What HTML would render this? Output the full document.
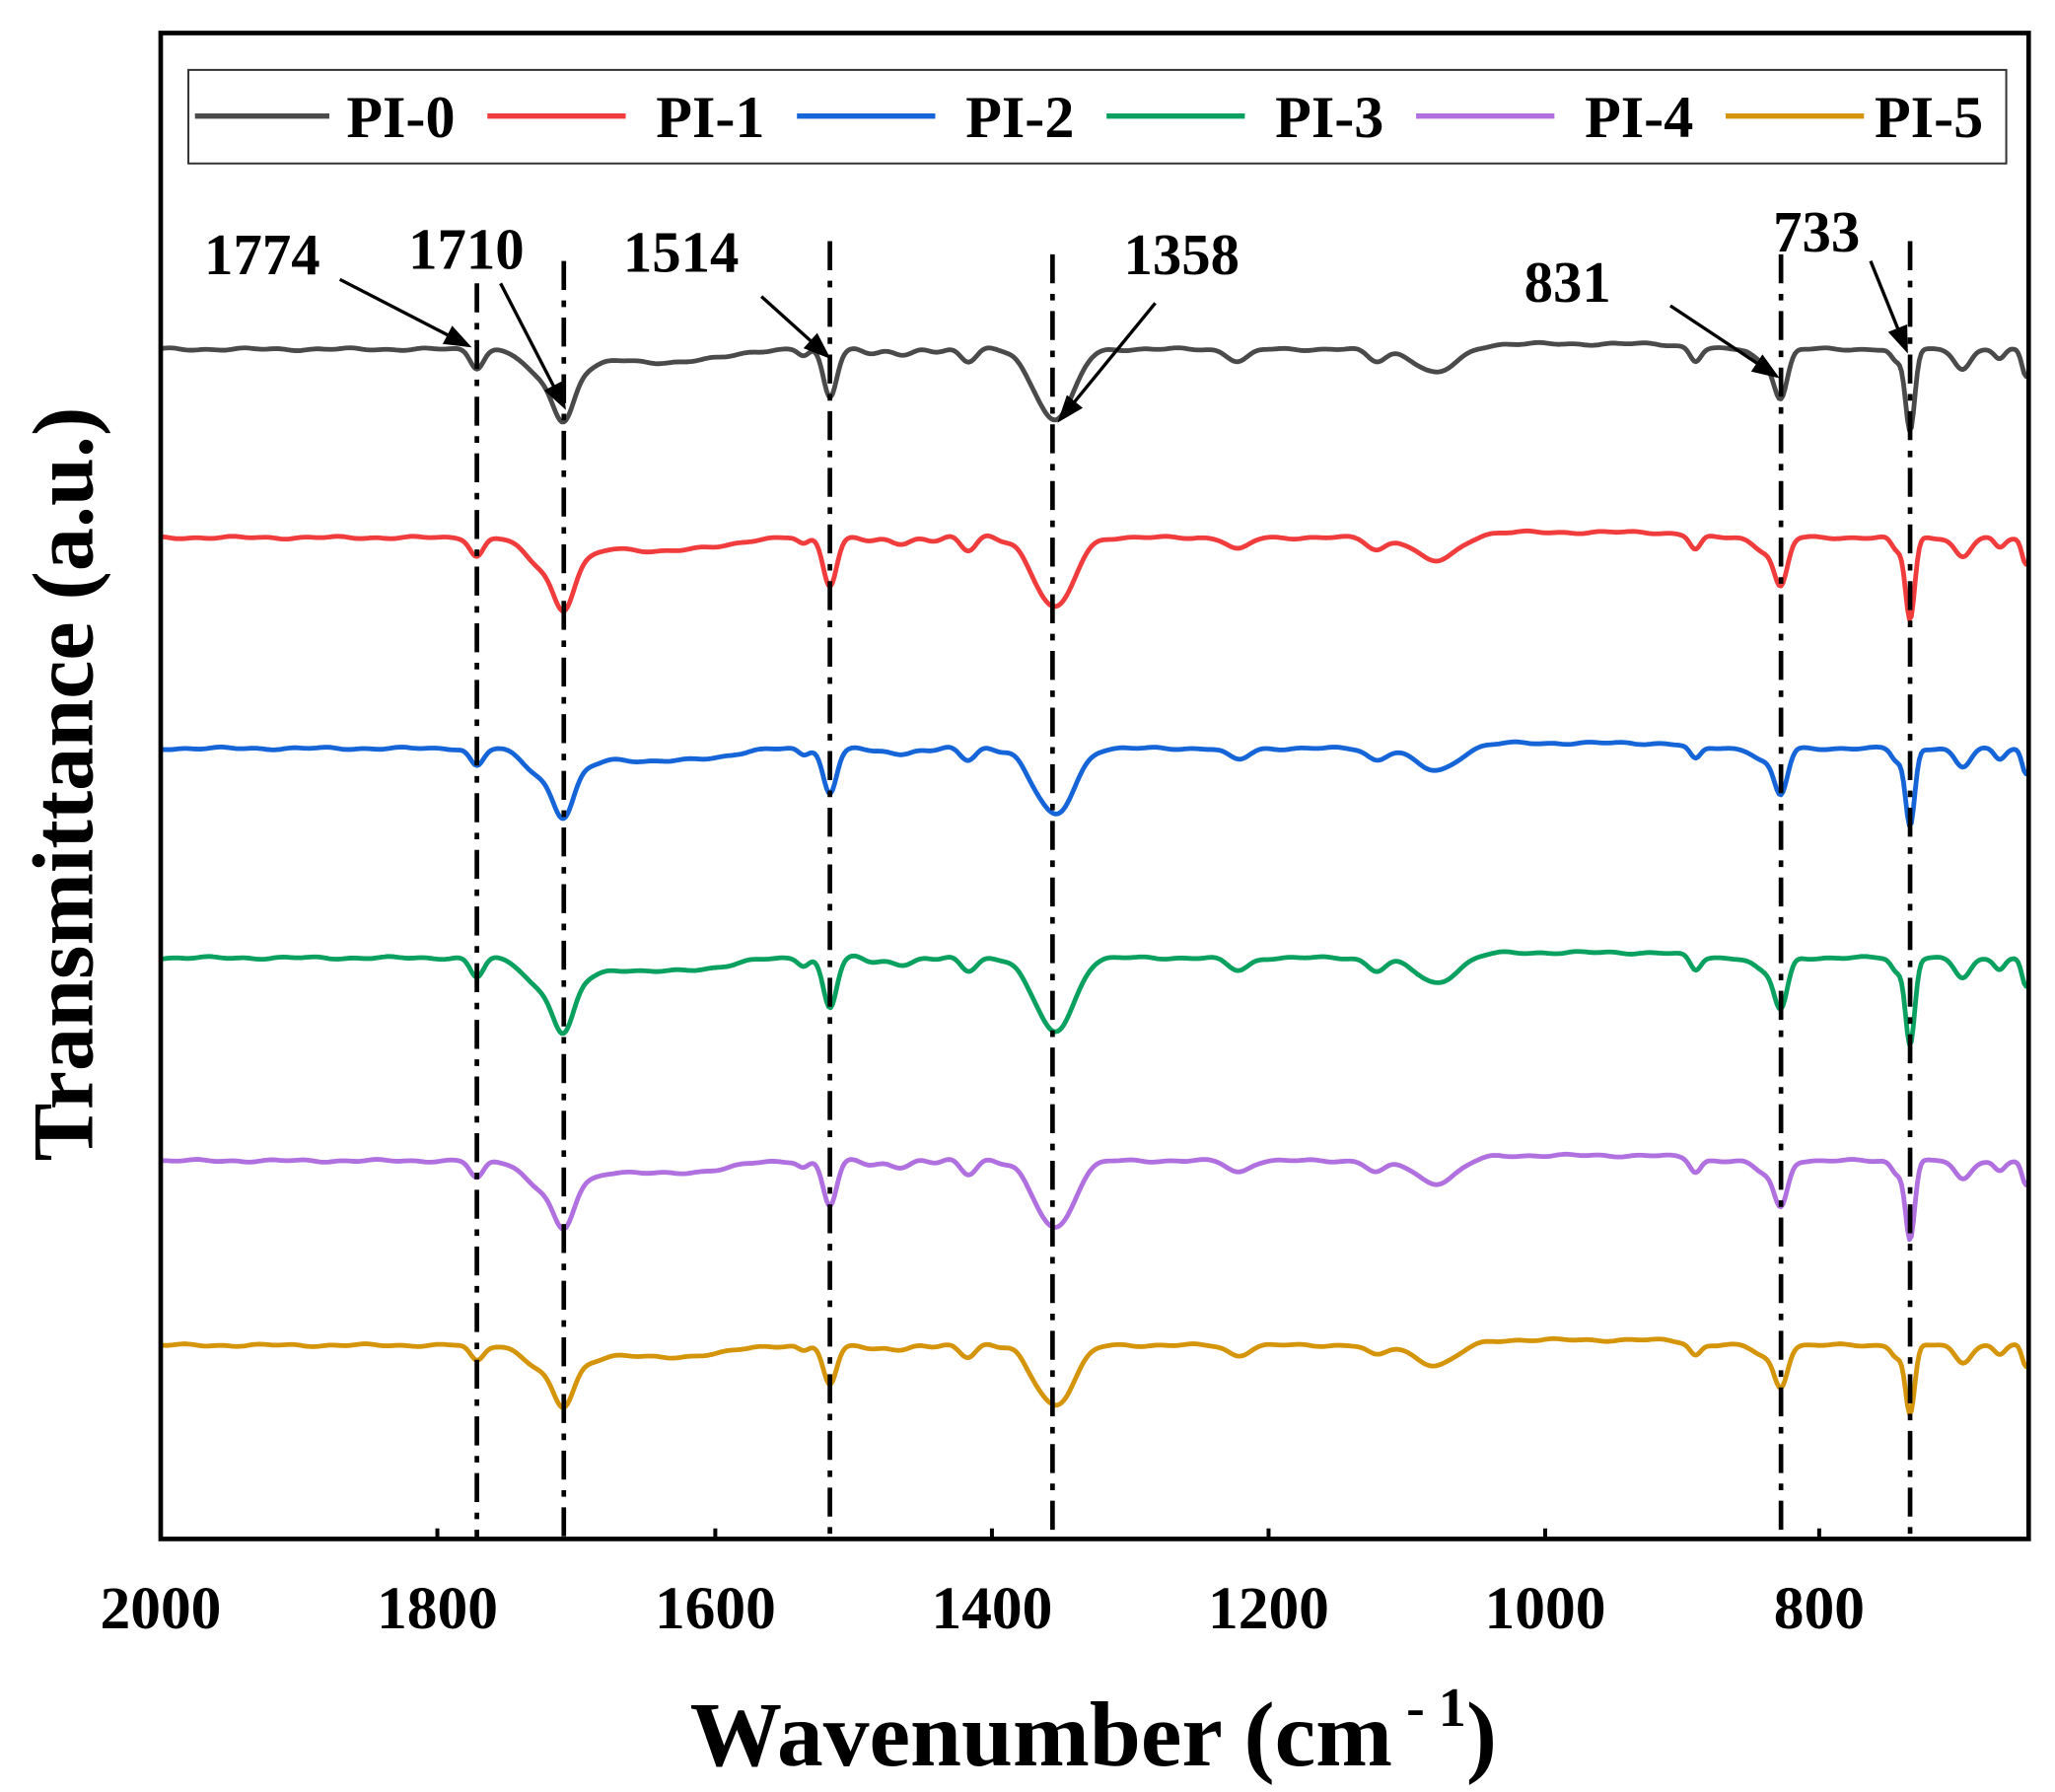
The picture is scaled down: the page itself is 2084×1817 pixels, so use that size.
<!DOCTYPE html>
<html><head><meta charset="utf-8"><style>
html,body{margin:0;padding:0;background:#fff}
svg{display:block}
text{font-family:"Liberation Serif",serif;font-weight:bold;fill:#000}
</style></head><body>
<svg id="s" width="2084" height="1817" viewBox="0 0 1560 1360" xmlns="http://www.w3.org/2000/svg">
<rect x="0" y="0" width="1560" height="1360" fill="#fff"/>
<g id="curves" fill="none" stroke-width="3.6" stroke-linejoin="round"></g>
<g stroke="#000" stroke-width="3.5" stroke-dasharray="22,8,5,8" fill="none">
<line x1="362" y1="215" x2="362" y2="1168"/>
<line x1="428" y1="198" x2="428" y2="1168"/>
<line x1="630" y1="183" x2="630" y2="1168"/>
<line x1="799" y1="193" x2="799" y2="1168"/>
<line x1="1352" y1="193" x2="1352" y2="1168"/>
<line x1="1450" y1="183" x2="1450" y2="1168"/>
</g>
<rect x="122" y="25" width="1418" height="1143" fill="none" stroke="#000" stroke-width="3.5"/>
<rect x="143" y="53" width="1380" height="71" fill="none" stroke="#333" stroke-width="1.5"/>
<g stroke-width="4">
<line x1="148" y1="88" x2="250" y2="88" stroke="#4a4a4a"/>
<line x1="370" y1="88" x2="475" y2="88" stroke="#f03c3c"/>
<line x1="605" y1="88" x2="710" y2="88" stroke="#1565d8"/>
<line x1="840" y1="88" x2="945" y2="88" stroke="#0aa060"/>
<line x1="1075" y1="88" x2="1180" y2="88" stroke="#b070e0"/>
<line x1="1310" y1="88" x2="1415" y2="88" stroke="#d4950a"/>
</g>
<g font-size="45">
<text x="263" y="104">PI-0</text>
<text x="498" y="104">PI-1</text>
<text x="733" y="104">PI-2</text>
<text x="968" y="104">PI-3</text>
<text x="1203" y="104">PI-4</text>
<text x="1423" y="104">PI-5</text>
</g>
<g font-size="44">
<text x="155" y="208">1774</text>
<text x="310" y="204">1710</text>
<text x="473" y="206">1514</text>
<text x="853" y="208">1358</text>
<text x="1157" y="229">831</text>
<text x="1346" y="191">733</text>
</g>
<g stroke="#000" stroke-width="2.5" id="arrows"></g>
<g font-size="46" text-anchor="middle">
<text x="122" y="1236">2000</text>
<text x="332" y="1236">1800</text>
<text x="543" y="1236">1600</text>
<text x="753" y="1236">1400</text>
<text x="963" y="1236">1200</text>
<text x="1173" y="1236">1000</text>
<text x="1381" y="1236">800</text>
</g>
<text x="830" y="1340" font-size="70" text-anchor="middle">Wavenumber (cm<tspan font-size="42" dy="-30"> - 1</tspan><tspan dy="30">)</tspan></text>
<text transform="translate(70,595) rotate(-90)" font-size="66" text-anchor="middle">Transmittance (a.u.)</text>
</svg>
<script>
var NS="http://www.w3.org/2000/svg";
var arrows=[[258,212,355,262],[380,215,428,308],[578,225,628,270],[877,230,805,318],[1268,232,1348,285],[1420,198,1447,265]];
var ag=document.getElementById('arrows');
arrows.forEach(function(a){
 var l=document.createElementNS(NS,'line');l.setAttribute('x1',a[0]);l.setAttribute('y1',a[1]);l.setAttribute('x2',a[2]);l.setAttribute('y2',a[3]);ag.appendChild(l);
 var dx=a[2]-a[0],dy=a[3]-a[1],L=Math.sqrt(dx*dx+dy*dy),ux=dx/L,uy=dy/L,h=16,w=6;
 var p=document.createElementNS(NS,'polygon');
 p.setAttribute('points',[a[2],a[3],a[2]-ux*h-uy*w,a[3]-uy*h+ux*w,a[2]-ux*h+uy*w,a[3]-uy*h-ux*w].join(','));
 p.setAttribute('fill','#000');ag.appendChild(p);
});
function g(x,c,d,w){return d*Math.exp(-(x-c)*(x-c)/(2*w*w));}
function win(x,a,b,s){return 0.5*(Math.tanh((x-a)/s)-Math.tanh((x-b)/s));}
var feats=[[362,14,5],[410,20,12],[428,45,8],[445,8,10],[500,6,40],[610,5,4],[630,36,5],[680,4,15],[735,9,6],[790,25,12],[806,40,12],[940,9,8],[1045,9,7],[1090,18,15],[1287,10,4],[1340,10,8],[1352,34,5],[1440,10,4],[1450,62,3.5],[1490,15,6],[1518,8,4],[1538,20,3]];
var series=[[265,'#4a4a4a',1,0],[408,'#f03c3c',1,1],[568,'#1565d8',0.95,2],[727,'#0aa060',1.05,3],[881,'#b070e0',0.95,4],[1021,'#d4950a',0.85,5]];
var cg=document.getElementById('curves');
series.forEach(function(s){
 var d='';
 for(var x=122;x<=1540;x+=1.5){
  var y=s[0];
  feats.forEach(function(f){y+=g(x,f[0],f[1]*s[2],f[2]);});
  y-=4*win(x,1120,1280,15);
  y+=4*win(x,440,560,15);
  y+=0.6*Math.sin(x*0.09+s[3])+0.5*Math.sin(x*0.23+2*s[3])+1.2*Math.sin(x*0.25)*win(x,640,780,10);
  d+=(d?'L':'M')+x.toFixed(1)+','+y.toFixed(1);
 }
 var p=document.createElementNS(NS,'path');p.setAttribute('d',d);p.setAttribute('stroke',s[1]);cg.appendChild(p);
});
var tg=document.createElementNS(NS,'g');tg.setAttribute('stroke','#000');tg.setAttribute('stroke-width','3');
[122,332,543,753,963,1173,1381].forEach(function(x){var l=document.createElementNS(NS,'line');l.setAttribute('x1',x);l.setAttribute('x2',x);l.setAttribute('y1',1168);l.setAttribute('y2',1160);tg.appendChild(l);});
document.getElementById('s').appendChild(tg);
</script>
</body></html>
